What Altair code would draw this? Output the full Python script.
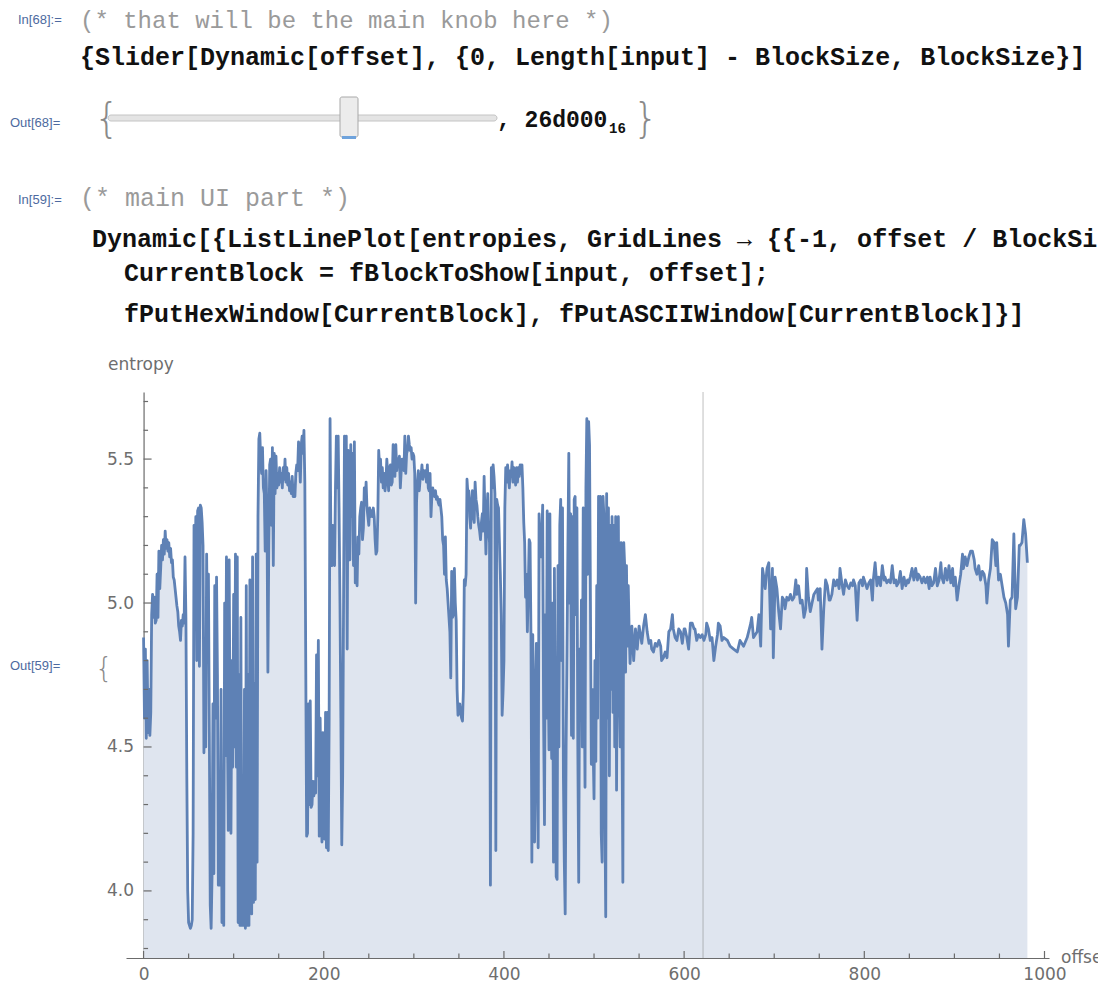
import altair as alt
import pandas as pd

# ---------------- data ----------------
# entropy of blocks 0..540 (one value per block)
entropy_dense = [
    4.88, 4.60, 4.84, 4.53, 4.80, 4.55, 4.70, 4.54, 4.62, 4.96,
    5.03, 4.95, 5.02, 4.93, 4.94, 5.10, 4.95, 5.18, 5.05, 5.12,
    5.20, 5.15, 5.22, 5.17, 5.25, 5.19, 5.22, 5.18, 5.21, 5.16,
    5.19, 5.14, 5.15, 5.09, 5.08, 5.05, 5.02, 4.99, 4.97, 4.92,
    4.90, 4.87, 4.94, 4.92, 4.96, 4.93, 5.16, 4.95, 4.40, 4.00,
    3.89, 3.88, 3.87, 3.88, 3.90, 4.20, 5.27, 5.10, 5.30, 4.80,
    5.32, 5.33, 4.78, 5.34, 5.33, 5.28, 5.20, 4.48, 4.75, 4.50,
    5.17, 4.85, 5.10, 4.55, 3.95, 3.87, 4.05, 4.65, 4.06, 5.06,
    4.60, 5.09, 4.75, 4.02, 4.30, 4.02, 4.70, 3.89, 4.20, 3.88,
    5.00, 4.47, 5.16, 4.60, 4.21, 5.15, 4.57, 4.20, 4.80, 4.43,
    5.03, 4.50, 5.17, 4.43, 5.16, 3.89, 4.75, 3.88, 4.95, 3.88,
    4.40, 3.88, 4.70, 3.87, 5.06, 3.88, 4.75, 3.88, 5.08, 4.10,
    3.92, 5.16, 3.96, 4.72, 3.97, 5.17, 4.10, 5.30, 5.57, 5.59,
    5.50, 5.45, 5.54, 5.40, 5.38, 5.18, 5.46, 5.30, 4.76, 5.20,
    5.48, 5.50, 5.27, 5.54, 5.13, 5.52, 5.38, 5.51, 5.40, 5.45,
    5.41, 5.47, 5.42, 5.45, 5.40, 5.47, 5.43, 5.50, 5.42, 5.47,
    5.41, 5.45, 5.39, 5.42, 5.38, 5.44, 5.37, 5.40, 5.37, 5.45,
    5.48, 5.46, 5.56, 5.50, 5.42, 5.55, 5.58, 5.52, 5.60, 5.42,
    4.80, 4.19, 4.20, 4.65, 4.30, 4.66, 4.29, 4.30, 4.38, 4.33,
    4.38, 4.34, 4.82, 4.40, 4.87, 4.19, 4.60, 4.33, 4.17, 4.55,
    4.35, 4.18, 4.62, 4.15, 4.62, 4.14, 4.60, 5.64, 5.18, 5.13,
    5.27, 5.14, 5.13, 5.40, 5.58, 5.40, 5.58, 5.33, 5.00, 4.60,
    4.16, 4.40, 5.01, 5.58, 5.36, 5.58, 4.84, 5.53, 5.20, 5.15,
    5.55, 5.30, 5.52, 5.13, 5.56, 5.07, 5.18, 5.06, 5.23, 5.17,
    5.30, 5.33, 5.35, 5.22, 5.26, 5.40, 5.34, 5.42, 5.33, 5.30,
    5.27, 5.33, 5.30, 5.32, 5.30, 5.33, 5.30, 5.22, 5.17, 5.18,
    5.30, 5.53, 5.47, 5.50, 5.42, 5.47, 5.40, 5.45, 5.39, 5.42,
    5.50, 5.45, 5.39, 5.47, 5.48, 5.41, 5.42, 5.55, 5.52, 5.44,
    5.55, 5.46, 5.50, 5.49, 5.51, 5.40, 5.46, 5.50, 5.48, 5.46,
    5.58, 5.45, 5.52, 5.53, 5.58, 5.55, 5.53, 5.54, 5.50, 5.52,
    5.51, 5.45, 5.00, 5.35, 5.42, 5.46, 5.39, 5.43, 5.44, 5.48,
    5.43, 5.46, 5.44, 5.46, 5.42, 5.48, 5.40, 5.39, 5.45, 5.30,
    5.37, 5.40, 5.38, 5.37, 5.39, 5.36, 5.37, 5.35, 5.34, 5.36,
    5.33, 5.30, 5.22, 5.20, 5.10, 5.23, 5.08, 5.05, 5.00, 4.95,
    4.90, 4.74, 5.11, 4.95, 4.96, 5.12, 5.00, 4.94, 4.70, 4.61,
    4.63, 4.65, 4.62, 4.60, 4.59, 4.70, 5.08, 5.06, 5.10, 5.43,
    5.38, 5.39, 5.30, 5.26, 5.35, 5.39, 5.30, 5.28, 5.42, 5.36,
    5.34, 5.30, 5.27, 5.25, 5.22, 5.28, 5.31, 5.25, 5.44, 5.30,
    5.17, 5.30, 5.38, 5.25, 5.21, 4.02, 5.47, 5.40, 5.48, 5.44,
    5.38, 4.14, 5.36, 5.34, 5.33, 5.21, 5.10, 4.96, 4.61, 4.69,
    4.80, 5.33, 5.47, 5.42, 5.48, 5.44, 5.40, 5.46, 5.44, 5.49,
    5.42, 5.47, 5.44, 5.41, 5.47, 5.42, 5.47, 5.44, 5.48, 5.45,
    5.48, 5.40, 5.28, 5.21, 5.02, 5.10, 4.90, 5.05, 5.22, 5.21,
    4.89, 4.10, 4.89, 4.50, 4.17, 4.70, 4.86, 4.40, 4.15, 5.31,
    5.20, 5.16, 5.23, 5.34, 4.61, 4.23, 4.96, 4.60, 5.32, 4.80,
    4.49, 5.31, 4.70, 4.46, 5.00, 4.10, 5.12, 4.60, 4.05, 4.04,
    5.13, 4.50, 5.27, 5.36, 4.80, 5.33, 4.40, 4.10, 3.92, 4.50,
    4.84, 5.20, 5.52, 5.00, 5.31, 4.54, 5.30, 4.53, 5.36, 5.37,
    4.96, 5.33, 4.50, 4.03, 4.84, 4.60, 5.01, 4.50, 5.33, 4.80,
    4.36, 5.40, 5.64, 5.10, 5.63, 5.55, 5.01, 4.44, 4.70, 4.50,
    4.32, 4.80, 4.45, 5.06, 4.60, 5.37, 5.06, 5.37, 4.20, 4.10,
    5.37, 5.30, 4.30, 3.91, 5.38, 4.60, 5.33, 4.40, 5.27, 4.70,
    5.30, 4.62, 5.27, 4.50, 5.30, 4.35, 5.10, 5.30, 4.70, 4.50,
    5.21, 4.60, 4.03, 5.21, 5.13, 4.76, 5.13, 4.85, 5.06, 4.90,
    4.79,
]

# smoother tail, blocks 542..981
tail_offsets = [
    542, 544, 546, 548, 550, 551, 553, 555, 557, 559, 561, 563, 564, 566, 568,
    570, 572, 574, 575, 577, 579, 581, 583, 585, 587, 588, 590, 592, 594, 596,
    598, 600, 601, 603, 605, 607, 609, 611, 612, 614, 616, 618, 620, 622, 624,
    625, 627, 629, 631, 633, 635, 637, 638, 640, 642, 644, 648, 651, 655, 659,
    662, 666, 670, 674, 675, 677, 681, 683, 685, 687, 688, 690, 692, 694, 696,
    698, 699, 701, 703, 705, 707, 709, 711, 712, 714, 716, 718, 720, 722, 724,
    725, 727, 729, 731, 733, 735, 736, 738, 740, 742, 744, 746, 748, 749, 751,
    753, 755, 757, 759, 761, 762, 764, 766, 768, 770, 772, 773, 775, 777, 779,
    781, 783, 785, 787, 788, 790, 792, 794, 796, 798, 799, 801, 803, 805, 807,
    809, 810, 812, 814, 816, 818, 820, 822, 823, 825, 827, 829, 831, 833, 835,
    836, 838, 840, 842, 844, 846, 848, 849, 851, 853, 855, 857, 859, 860, 862,
    864, 866, 868, 870, 872, 873, 875, 877, 879, 881, 883, 885, 886, 888, 890,
    892, 894, 896, 898, 899, 901, 903, 905, 907, 909, 910, 912, 914, 916, 918,
    920, 922, 923, 925, 927, 929, 931, 933, 935, 936, 938, 940, 942, 944, 946,
    947, 949, 951, 953, 955, 957, 959, 960, 962, 964, 966, 968, 970, 972, 973,
    975, 977, 979, 981,
]
tail_entropy = [
    4.92, 4.80, 4.91, 4.84, 4.92, 4.90, 4.86, 4.92, 4.96, 4.90, 4.86, 4.87, 4.84, 4.83, 4.86,
    4.85, 4.87, 4.85, 4.80, 4.81, 4.83, 4.81, 4.90, 4.91, 4.96, 4.91, 4.88, 4.87, 4.91, 4.90,
    4.86, 4.91, 4.91, 4.88, 4.84, 4.93, 4.93, 4.91, 4.91, 4.87, 4.89, 4.88, 4.89, 4.87, 4.89,
    4.93, 4.91, 4.87, 4.88, 4.80, 4.85, 4.89, 4.93, 4.92, 4.87, 4.88, 4.87, 4.85, 4.84, 4.83,
    4.87, 4.85, 4.88, 4.93, 4.95, 4.88, 4.90, 4.96, 4.85, 5.12, 5.10, 5.05, 5.12, 5.14, 4.91,
    5.12, 4.81, 5.09, 5.05, 4.97, 4.91, 5.02, 5.01, 4.98, 5.02, 5.01, 5.03, 5.01, 5.02, 5.08,
    5.03, 5.06, 5.00, 5.01, 4.95, 4.98, 5.12, 5.02, 4.97, 5.00, 5.03, 5.04, 5.05, 5.01, 5.05,
    4.84, 4.98, 5.08, 5.06, 5.01, 5.01, 5.03, 5.08, 5.06, 5.08, 5.05, 5.12, 5.07, 5.03, 5.08,
    5.06, 5.05, 5.07, 5.06, 5.08, 5.06, 4.94, 5.07, 5.08, 5.06, 5.09, 5.07, 5.05, 5.07, 5.08,
    5.01, 5.08, 5.14, 5.06, 5.09, 5.06, 5.13, 5.08, 5.09, 5.07, 5.08, 5.07, 5.13, 5.07, 5.08,
    5.06, 5.07, 5.11, 5.05, 5.09, 5.06, 5.08, 5.07, 5.09, 5.12, 5.08, 5.12, 5.08, 5.10, 5.09,
    5.07, 5.09, 5.07, 5.09, 5.05, 5.09, 5.06, 5.07, 5.12, 5.06, 5.08, 5.14, 5.09, 5.07, 5.12,
    5.08, 5.13, 5.07, 5.12, 5.06, 5.09, 5.01, 5.06, 5.10, 5.17, 5.12, 5.16, 5.13, 5.16, 5.18,
    5.18, 5.15, 5.12, 5.10, 5.13, 5.08, 5.11, 5.10, 5.06, 5.00, 5.08, 5.12, 5.22, 5.21, 5.13,
    5.21, 5.08, 5.10, 5.06, 5.02, 5.00, 4.96, 4.85, 5.01, 5.02, 5.24, 4.98, 5.02, 5.20, 5.20,
    5.21, 5.29, 5.24, 5.14,
]

current_block = [621]          # offset 26d000 (hex) / BlockSize 4096
x_major = [0, 200, 400, 600, 800, 1000]
x_minor = [50, 100, 150, 250, 300, 350, 450, 500, 550, 650, 700, 750, 850, 900, 950]
y_major = [4.0, 4.5, 5.0, 5.5]
y_minor = [3.8, 3.9, 4.1, 4.2, 4.3, 4.4, 4.6, 4.7, 4.8, 4.9,
           5.1, 5.2, 5.3, 5.4, 5.6, 5.7]

# ---------------- layout ----------------
W, H = 923, 566
PAD = {"left": 118, "top": 384, "right": 49, "bottom": 24}
OX, OY = 8 + PAD["left"], 8 + PAD["top"]   # page position of plot origin
X_DOM = [-19.5, 1005]
Y_DOM = [3.767, 5.733]
Y_AXIS_SHIFT = 19.5 * W / (X_DOM[1] - X_DOM[0])   # pixel position of x = 0

LINE = "#5e81b5"
FILL = "#dfe5ef"
AXIS = "#6b6b6b"
LABEL = "#6e6e6e"

xs = alt.Scale(domain=X_DOM, nice=False, zero=False)
ys = alt.Scale(domain=Y_DOM, nice=False, zero=False)

df = pd.DataFrame({
    "offset": list(range(len(entropy_dense))) + tail_offsets,
    "entropy": entropy_dense + tail_entropy,
})

x_axis = alt.Axis(values=x_major, format="d", ticks=False, grid=False, domainColor=AXIS,
                  domainWidth=1.2, labelFont="DejaVu Sans", labelFontSize=17,
                  labelColor=LABEL, labelPadding=8, title=None,
                  labelFlush=False, labelOverlap=False)
y_axis = alt.Axis(values=y_major, format=".1f", ticks=False, grid=False,
                  offset=-Y_AXIS_SHIFT, domainColor=AXIS, domainWidth=1.2,
                  labelFont="DejaVu Sans", labelFontSize=17, labelColor=LABEL,
                  labelPadding=10, title=None, labelOverlap=False)

X = lambda f: alt.X(f, scale=xs, axis=x_axis, title=None)
Y = lambda f: alt.Y(f, scale=ys, axis=y_axis, title=None)

area = alt.Chart(df).mark_area(color=FILL, opacity=1).encode(
    x=X("offset:Q"), y=Y("entropy:Q"), y2=alt.datum(Y_DOM[0]),
)

grid = alt.Chart(pd.DataFrame({"offset": current_block})).mark_rule(
    color="#808080", opacity=0.5, strokeWidth=1
).encode(x=X("offset:Q"), y=alt.value(0), y2=alt.value(H))

line = alt.Chart(df).mark_line(color=LINE, strokeWidth=2.8, strokeJoin="round").encode(
    x=X("offset:Q"), y=Y("entropy:Q"),
)


def xticks(vals, length):
    return alt.Chart(pd.DataFrame({"offset": vals})).mark_rule(
        color=AXIS, strokeWidth=1.2
    ).encode(x=X("offset:Q"), y=alt.value(H), y2=alt.value(H - length))


def yticks(vals, length):
    return alt.Chart(pd.DataFrame({"entropy": vals})).mark_rule(
        color=AXIS, strokeWidth=1.2
    ).encode(y=Y("entropy:Q"),
             x=alt.value(Y_AXIS_SHIFT), x2=alt.value(Y_AXIS_SHIFT + length))


def text(s, px, py, size, color, font, weight="normal", baseline="alphabetic", align="left"):
    return alt.Chart(pd.DataFrame({"t": [s]})).mark_text(
        align=align, baseline=baseline, font=font, fontSize=size,
        fontWeight=weight, color=color
    ).encode(x=alt.value(px - OX), y=alt.value(py - OY), text="t:N")


def box(px1, px2, py1, py2, fill, stroke, radius=0, sw=1):
    return alt.Chart(pd.DataFrame({"a": [0]})).mark_rect(
        fill=fill, stroke=stroke, strokeWidth=sw, cornerRadius=radius
    ).encode(x=alt.value(px1 - OX), x2=alt.value(px2 - OX),
             y=alt.value(py1 - OY), y2=alt.value(py2 - OY))


MONO = "Liberation Mono"
CODE = "#111111"
COMMENT = "#9a9a9a"
CELL = "#4d6aa0"
CELLFONT = "Liberation Sans"
BRACE = "#8a8a8a"

notebook = [
    text("In[68]:=", 18, 24, 13, CELL, CELLFONT),
    text("(* that will be the main knob here *)", 80, 28, 24, COMMENT, MONO),
    text("{Slider[Dynamic[offset], {0, Length[input] - BlockSize, BlockSize}]",
         80, 65, 25, CODE, MONO, "bold"),
    text("Out[68]=", 10, 127, 13, CELL, CELLFONT),
    text("{", 94, 132, 40, BRACE, "DejaVu Sans", 200),
    box(108, 497, 115, 121, "#e4e4e4", "#c4c4c4", 3),
    box(340, 358, 97, 137, "#ececec", "#a8a8a8", 2),
    box(342, 356, 136, 139, "#6fa3dc", "#6fa3dc", 0, 0),
    text(", 26d000", 497, 127, 23, CODE, MONO, "bold"),
    text("16", 609, 133, 14, CODE, MONO, "bold"),
    text("}", 633, 132, 40, BRACE, "DejaVu Sans", 200),
    text("In[59]:=", 18, 204, 13, CELL, CELLFONT),
    text("(* main UI part *)", 80, 206, 25, COMMENT, MONO),
    text("Dynamic[{ListLinePlot[entropies, GridLines \u2192 {{-1, offset / BlockSize}",
         92, 247, 25, CODE, MONO, "bold"),
    text("CurrentBlock = fBlockToShow[input, offset];", 124, 281, 25, CODE, MONO, "bold"),
    text("fPutHexWindow[CurrentBlock], fPutASCIIWindow[CurrentBlock]}]",
         124, 322, 25, CODE, MONO, "bold"),
    text("Out[59]=", 10, 670, 13, CELL, CELLFONT),
    text("{", 95, 678, 28, BRACE, "DejaVu Sans", 200),
    text("entropy", 108, 370, 17, LABEL, "DejaVu Sans"),
    text("offset", 1061, 963, 17, LABEL, "DejaVu Sans"),
]

chart = alt.layer(
    area, grid, line,
    xticks(x_major, 7), xticks(x_minor, 4.5),
    yticks(y_major, 8), yticks(y_minor, 4.5),
    *notebook,
).properties(
    width=W, height=H, padding=PAD,
    autosize=alt.AutoSizeParams(type="none"),
    background="white",
).configure_view(stroke=None)

chart.save("out.html", embed_options={"renderer": "svg", "actions": False})
